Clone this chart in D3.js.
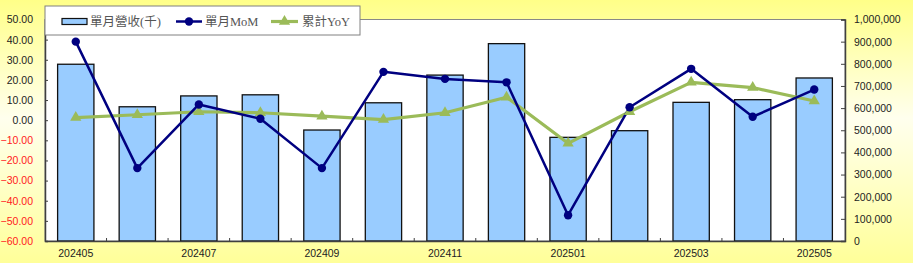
<!DOCTYPE html>
<html><head><meta charset="utf-8">
<script src="https://cdn.jsdelivr.net/npm/d3@7/dist/d3.min.js"></script>
<style>html,body{margin:0;padding:0;overflow:hidden;}</style>
</head><body>
<svg id="chart" width="913" height="263"></svg>
<script>
const categories = ["202405","202406","202407","202408","202409","202410","202411","202412","202501","202502","202503","202504","202505"];
const revenue = [798000,606000,655000,660000,501000,624000,749000,891000,468000,498000,626000,638000,736000];
const mom = [39.0,-23.8,7.8,0.7,-23.8,24.0,20.5,18.8,-47.2,6.4,25.5,1.7,15.2];
const yoy = [1.3,2.7,4.2,3.7,2.0,0.3,3.7,11.4,-11.5,4.2,18.8,16.2,9.5];
const leftTicks = [-60,-50,-40,-30,-20,-10,0,10,20,30,40,50];
const rightTicks = [0,100000,200000,300000,400000,500000,600000,700000,800000,900000,1000000];
const legendLabels = ["單月營收(千)","單月MoM","累計YoY"];

const W = 913, H = 263;
const L = 45, R = 845, T = 19.5, B = 241;
const svg = d3.select("#chart");
const defs = svg.append("defs");
const g1 = defs.append("linearGradient").attr("id","bg").attr("x1",0).attr("y1",0).attr("x2",0).attr("y2",1);
g1.append("stop").attr("offset","0").attr("stop-color","#FFFF88");
g1.append("stop").attr("offset","0.45").attr("stop-color","#FFFFEE");
g1.append("stop").attr("offset","1").attr("stop-color","#FFFF99");
svg.append("rect").attr("width",W).attr("height",H).attr("fill","url(#bg)");

const x = d3.scaleBand().domain(categories).range([L,R]).padding(0);
const yL = d3.scaleLinear().domain([-60,50]).range([B,T]);
const yR = d3.scaleLinear().domain([0,1000000]).range([B,T]);

// plot area
svg.append("rect").attr("x",L).attr("y",T).attr("width",R-L).attr("height",B-T)
  .attr("fill","#fff").attr("stroke","#888").attr("stroke-width",1);

// bars
const bw = x.bandwidth()*0.59;
svg.append("g").selectAll("rect").data(revenue).join("rect")
  .attr("x",(d,i)=>x(categories[i])+x.bandwidth()/2-bw/2)
  .attr("y",d=>yR(d)).attr("width",bw).attr("height",d=>yR(0)-yR(d))
  .attr("fill","#99CCFF").attr("stroke","#111").attr("stroke-width",1.3);

// axes
const axL = svg.append("g").attr("transform",`translate(${L},0)`)
  .call(d3.axisLeft(yL).tickValues(leftTicks).tickSize(-3).tickPadding(12).tickFormat(d3.format(".2f")));
axL.select(".domain").attr("stroke","#404040").attr("stroke-width",1.5);
axL.selectAll(".tick line").attr("stroke","#404040");
axL.selectAll(".tick text").attr("fill",d=>d<0?"#FF2020":"#222")
  .style("font-family","'Liberation Sans',Arial,sans-serif").style("font-size","10.5px");

const axR = svg.append("g").attr("transform",`translate(${R},0)`)
  .call(d3.axisRight(yR).tickValues(rightTicks).tickSize(-4).tickPadding(9).tickFormat(d3.format(",")));
axR.select(".domain").attr("stroke","#404040").attr("stroke-width",1.5);
axR.selectAll(".tick line").attr("stroke","#404040");
axR.selectAll(".tick text").attr("fill","#222")
  .style("font-family","'Liberation Sans',Arial,sans-serif").style("font-size","10.5px");

const axB = svg.append("g").attr("transform",`translate(0,${B})`)
  .call(d3.axisBottom(x).tickSize(0).tickPadding(9).tickFormat((d,i)=>i%2===0?d:""));
axB.select(".domain").attr("stroke","#404040").attr("stroke-width",1.5);
axB.selectAll(".tick text").attr("fill","#222")
  .style("font-family","'Liberation Sans',Arial,sans-serif").style("font-size","10.5px");
svg.append("g").selectAll("line").data(categories.slice(1)).join("line")
  .attr("x1",d=>x(d)).attr("x2",d=>x(d)).attr("y1",B).attr("y2",B-3)
  .attr("stroke","#404040");

// lines
const cx = i => x(categories[i])+x.bandwidth()/2;
const lineL = d3.line().x((d,i)=>cx(i)).y(d=>yL(d));
svg.append("path").datum(yoy).attr("d",lineL).attr("fill","none")
  .attr("stroke","#9BBB59").attr("stroke-width",3.2).attr("stroke-linejoin","round");
svg.append("path").datum(mom).attr("d",lineL).attr("fill","none")
  .attr("stroke","#000080").attr("stroke-width",2.5).attr("stroke-linejoin","round");
const tri = d3.symbol().type(d3.symbolTriangle).size(55);
svg.append("g").selectAll("path").data(yoy).join("path")
  .attr("d",tri).attr("transform",(d,i)=>`translate(${cx(i)},${yL(d)})`).attr("fill","#9BBB59");
svg.append("g").selectAll("circle").data(mom).join("circle")
  .attr("cx",(d,i)=>cx(i)).attr("cy",d=>yL(d)).attr("r",4.2).attr("fill","#000080");

// legend
const lg = svg.append("g");
lg.append("rect").attr("x",L).attr("y",6).attr("width",315).attr("height",29)
  .attr("fill","#fff").attr("stroke","#808080").attr("stroke-width",1);
const ly = 21.5;
lg.append("rect").attr("x",62).attr("y",ly-3).attr("width",25).attr("height",6)
  .attr("fill","#99CCFF").attr("stroke","#111").attr("stroke-width",1.2);
lg.append("line").attr("x1",176).attr("x2",202).attr("y1",ly).attr("y2",ly).attr("stroke","#000080").attr("stroke-width",2.5);
lg.append("circle").attr("cx",189).attr("cy",ly).attr("r",4.2).attr("fill","#000080");
lg.append("line").attr("x1",271).attr("x2",298).attr("y1",ly).attr("y2",ly).attr("stroke","#9BBB59").attr("stroke-width",3.2);
lg.append("path").attr("d",tri).attr("transform",`translate(284.5,${ly})`).attr("fill","#9BBB59");
const lx = [90,205,302];
lg.selectAll("text").data(legendLabels).join("text")
  .attr("x",(d,i)=>lx[i]).attr("y",ly+4.5).text(d=>d)
  .attr("fill","#555").style("font-family","'Liberation Serif','Noto Sans CJK TC',serif").style("font-size","12.5px");
</script>
</body></html>
